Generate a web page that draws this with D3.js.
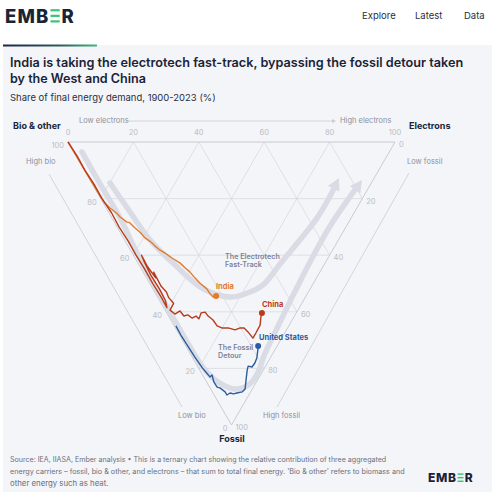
<!DOCTYPE html>
<meta charset="utf-8">
<style>
 body { margin: 0; background: #fff; }
 text { font-family: Inter, "Open Sans", sans-serif; }
 .grid { fill: none; stroke: #d5d7dd; stroke-width: 0.7; }
 .tick { fill: #b9bdc6; font-size: 7.5px; }
 .hint { fill: #8d919b; font-size: 7.5px; }
 .axtitle { fill: #1b2336; font-size: 9px; font-weight: 700; }
</style>
<body>
<div id="chart"></div>
<script src="https://cdn.jsdelivr.net/npm/d3@7"></script>
<script>
// values are [fossil %, electrons %]; bio & other is the rest
var india = [[0,0],[9.9,0.1],[19.1,0.3],[21.2,0.4],[23.3,1.2],[25.2,2.3],[26.5,2.7],[28.3,3.9],[28.5,4.6],
  [30.4,5.3],[32.0,6.1],[33.9,6.6],[35.2,7.6],[36.7,8.2],[38.0,8.9],[39.2,10.0],[41.0,11.3],[42.8,12.9],
  [44.5,13.6],[45.9,14.3],[48.0,14.8],[49.8,15.4],[51.9,16.5],[53.5,16.6],[54.8,17.0],[54.4,18.1]];
var china = [[0,0],[5,0.3],[10,0.2],[15,0.5],[20,0.4],[25,0.8],[30,0.6],[35,0.9],[40,0.8],[45,1.0],
  [50,0.9],[55,1.1],[58.5,1.0],[56,1.8],[52,2.0],[47,1.8],[42,2.2],[40,2.5],[44,2.3],[48,2.8],[46,3.2],
  [51,3.0],[53,3.6],[55,3.3],[57,3.8],[59.4,1.5],[60.8,2.3],[59.7,4.4],[61.5,4.7],[61.1,6.1],[62.2,6.8],
  [61.5,8.4],[62.5,8.8],[60.4,10.5],[60.1,11.9],[61.5,12.1],[62.9,12.9],[65.0,13.1],[65.7,14.2],
  [65.7,16.1],[66.4,17.9],[65.7,19.8],[65.7,21.0],[67.1,21.5],[69.3,21.9],[67.5,23.7],[64.7,26.4],
  [61.8,28.1],[60.4,29.1]];
var usa = [[65.0,0.5],[68.2,0.4],[72.4,0.6],[76.0,0.8],[79.9,1.2],[81.6,1.6],[83.0,1.9],[82.3,2.9],
  [84.8,2.2],[86.6,2.3],[86.9,3.0],[88.3,3.9],[89.4,3.9],[88.7,5.2],[89.0,6.1],[88.7,7.3],[88.3,9.1],
  [87.3,10.5],[84.1,12.4],[80.6,14.5],[79.2,15.5],[79.5,16.5],[78.1,18.1],[76.3,19.6],[73.5,21.3],[72.1,22.1]];

// annotation arrows, same [fossil, electrons] coordinates
var fastTrack = [[14.5,5.6],[24.7,6.6],[34.6,7.8],[44.2,11.3],[51.2,14.8],[53.7,18.1],[54.8,22.2],
  [53.7,27.3],[50.5,34.4],[43.1,43.3],[34.6,53.6],[26.9,62.7],[19.1,70.6],[12.7,76.5]];
var detour = [[3.5,2.5],[14.8,2.4],[26.9,2.5],[39.2,1.5],[55.8,1.1],[67.5,1.1],[78.1,1.3],[83.4,2.6],
  [86.2,4.9],[87.3,8.0],[85.5,12.9],[81.3,17.5],[75.6,22.1],[69.3,27.8],[56.5,39.6],[42.4,52.8],
  [29.7,65.3],[19.4,76.5],[13.4,83.2]];

var ticks = [0, 20, 40, 60, 80, 100];
var footer = [
  "Source: IEA, IIASA, Ember analysis \u2022 This is a ternary chart showing the relative contribution of three aggregated",
  "energy carriers \u2013 fossil, bio & other, and electrons \u2013 that sum to total final energy. 'Bio & other' refers to biomass and",
  "other energy such as heat."
];

(function(){
  var width = 500, height = 498;
  var svg = d3.select("#chart").append("svg")
      .attr("width", width).attr("height", height);

  // squeeze a text to a given width by adjusting its size
  function fit(t, w) {
    var len = t.node().getComputedTextLength();
    var fs = parseFloat(t.style("font-size"));
    t.style("font-size", (fs * w / len) + "px");
    return t;
  }

  function logo(g, x, y, size) {
    var t = g.append("text").attr("x", x).attr("y", y)
      .style("font-size", size + "px").style("font-weight", 800).attr("fill", "#1b2336")
      .style("letter-spacing", (size * 0.06) + "px").text("EMB");
    var w = t.node().getComputedTextLength();
    var bx = x + w + size * 0.06, bw = size * 0.5, bh = size * 0.12, cap = size * 0.72;
    [0, 0.5, 1].forEach(function(k) {
      g.append("rect").attr("x", bx).attr("y", y - cap + k * (cap - bh)).attr("width", bw)
        .attr("height", bh).attr("fill", "#3ec27a");
    });
    g.append("text").attr("x", bx + bw + size * 0.1).attr("y", y)
      .style("font-size", size + "px").style("font-weight", 800).attr("fill", "#1b2336").text("R");
  }

  // header
  logo(svg, 5, 22.5, 18.5);
  [["Explore", 362], ["Latest", 415], ["Data", 464]].forEach(function(n) {
    svg.append("text").attr("x", n[1]).attr("y", 18.5).style("font-size", "9.5px")
      .attr("fill", "#2b3040").text(n[0]);
  });

  // card
  svg.append("rect").attr("x", 3).attr("y", 45).attr("width", 489).attr("height", 447).attr("fill", "#f4f5f9");
  var grad = svg.append("defs").append("linearGradient").attr("id", "bar");
  grad.append("stop").attr("offset", "0%").attr("stop-color", "#1d2747");
  grad.append("stop").attr("offset", "60%").attr("stop-color", "#2c5a5e");
  grad.append("stop").attr("offset", "100%").attr("stop-color", "#43b87c");
  svg.append("rect").attr("x", 3).attr("y", 44.5).attr("width", 94).attr("height", 2).attr("fill", "url(#bar)");

  fit(svg.append("text").attr("x", 10).attr("y", 67).style("font-size", "13px").style("font-weight", 600)
    .attr("fill", "#1b2336").text("India is taking the electrotech fast-track, bypassing the fossil detour taken"), 454);
  fit(svg.append("text").attr("x", 10).attr("y", 83).style("font-size", "13px").style("font-weight", 600)
    .attr("fill", "#1b2336").text("by the West and China"), 136);
  fit(svg.append("text").attr("x", 10).attr("y", 100.5).style("font-size", "10px")
    .attr("fill", "#2b3040").text("Share of final energy demand, 1900-2023 (%)"), 206);

  // ternary scales
  var xs = d3.scaleLinear().domain([0, 100]).range([68, 395]);
  var ys = d3.scaleLinear().domain([0, 100]).range([142, 425]);
  function pt(f, e) { return [xs(e + f / 2), ys(f)]; }
  var line = d3.line().x(function(d) { return pt(d[0], d[1])[0]; }).y(function(d) { return pt(d[0], d[1])[1]; });

  var g = svg.append("g");
  // grid
  [20, 40, 60, 80].forEach(function(k) {
    g.append("path").attr("class", "grid").attr("d", line([[k, 0], [k, 100 - k]]));
    g.append("path").attr("class", "grid").attr("d", line([[0, k], [100 - k, k]]));
    g.append("path").attr("class", "grid").attr("d", line([[0, 100 - k], [100 - k, 0]]));
  });
  g.append("path").attr("d", line([[0, 0], [0, 100], [100, 0]]) + "Z")
    .attr("fill", "none").attr("stroke", "#c3c6ce").attr("stroke-width", 0.9);

  // tick labels
  ticks.forEach(function(k) {
    var p = pt(0, k);
    g.append("text").attr("class", "tick").attr("x", p[0]).attr("y", p[1] - 9)
      .attr("text-anchor", "middle").attr("dominant-baseline", "middle").text(k);
    p = pt(100 - k, 0);
    g.append("text").attr("class", "tick").attr("x", p[0] - 4).attr("y", p[1] + 4)
      .attr("text-anchor", "end").attr("dominant-baseline", "middle").text(k);
    p = pt(k, 100 - k);
    g.append("text").attr("class", "tick").attr("x", p[0] + 4).attr("y", p[1] + 3)
      .attr("text-anchor", "start").attr("dominant-baseline", "middle").text(k);
  });

  // outer axis guides
  g.append("line").attr("x1", 49).attr("y1", 174).attr("x2", 182).attr("y2", 407).attr("stroke", "#c9ccd3").attr("stroke-width", 0.8);
  g.append("line").attr("x1", 409).attr("y1", 173).attr("x2", 277).attr("y2", 407).attr("stroke", "#c9ccd3").attr("stroke-width", 0.8);
  g.append("line").attr("x1", 128).attr("y1", 121).attr("x2", 333).attr("y2", 121).attr("stroke", "#c9ccd3").attr("stroke-width", 0.8);
  g.append("path").attr("d", "M332,119L336,121L332,123Z").attr("fill", "#c9ccd3");
  [["Low electrons", 79, 121, "start"], ["High electrons", 340, 121, "start"], ["High bio", 26, 162, "start"],
   ["Low bio", 178, 416, "start"], ["Low fossil", 407, 162, "start"], ["High fossil", 263, 416, "start"]].forEach(function(h) {
    g.append("text").attr("class", "hint").attr("x", h[1]).attr("y", h[2])
      .attr("dominant-baseline", "middle").attr("text-anchor", h[3]).text(h[0]);
  });
  [["Bio & other", 13, 127, "start"], ["Electrons", 409, 127, "start"], ["Fossil", 232, 440, "middle"]].forEach(function(h) {
    g.append("text").attr("class", "axtitle").attr("x", h[1]).attr("y", h[2])
      .attr("dominant-baseline", "middle").attr("text-anchor", h[3]).text(h[0]);
  });

  // gray arrows: curve runs to the base of the head, head ends on the last point
  var curve = d3.line().curve(d3.curveCatmullRom);
  [fastTrack, detour].forEach(function(a) {
    var px = a.map(function(d) { return pt(d[0], d[1]); });
    var tip = px[px.length - 1], prev = px[px.length - 2];
    var dx = tip[0] - prev[0], dy = tip[1] - prev[1], l = Math.sqrt(dx * dx + dy * dy);
    dx /= l; dy /= l;
    var bx = tip[0] - dx * 12, by = tip[1] - dy * 12;
    var body = px.slice(0, px.length - 1).concat([[bx + dx, by + dy]]);
    g.append("path").attr("d", curve(body))
      .attr("fill", "none").attr("stroke", "#d9dce4").attr("stroke-width", 5.5).attr("stroke-linecap", "round");
    g.append("path").attr("d", "M" + tip + "L" + [bx - dy * 6.5, by + dx * 6.5] + "L" + [bx + dy * 6.5, by - dx * 6.5] + "Z")
      .attr("fill", "#d9dce4");
  });
  [["The Electrotech", 225, 257.5], ["Fast-Track", 225, 265.5], ["The Fossil", 218, 348], ["Detour", 218, 356]].forEach(function(h) {
    g.append("text").attr("x", h[1]).attr("y", h[2]).attr("dominant-baseline", "middle")
      .style("font-size", "7.2px").style("font-weight", 600).attr("fill", "#7c8398").text(h[0]);
  });

  // country lines
  var series = [
    {name: "India", data: india, color: "#e27b2c", lx: 216, ly: 287},
    {name: "China", data: china, color: "#b83c1c", lx: 262, ly: 305},
    {name: "United States", data: usa, color: "#2d5c9e", lx: 259, ly: 338}
  ];
  series.forEach(function(s) {
    g.append("path").attr("d", line(s.data)).attr("fill", "none").attr("stroke", s.color)
      .attr("stroke-width", 1.4).attr("stroke-linejoin", "round");
    var last = s.data[s.data.length - 1], p = pt(last[0], last[1]);
    g.append("circle").attr("cx", p[0]).attr("cy", p[1]).attr("r", 3).attr("fill", s.color);
    g.append("text").attr("x", s.lx).attr("y", s.ly).attr("dominant-baseline", "middle")
      .style("font-size", "7.5px").style("font-weight", 700).attr("fill", s.color).text(s.name);
  });

  // footer
  footer.forEach(function(t, i) {
    var tx = svg.append("text").attr("x", 10).attr("y", 461.5 + i * 12).style("font-size", "7.8px")
      .attr("fill", "#6b6f7a").text(t);
    if (i == 0) fit(tx, 377);
    if (i == 1) fit(tx, 395);
  });
  logo(svg, 428, 482, 12);
})();
</script>
</body>
